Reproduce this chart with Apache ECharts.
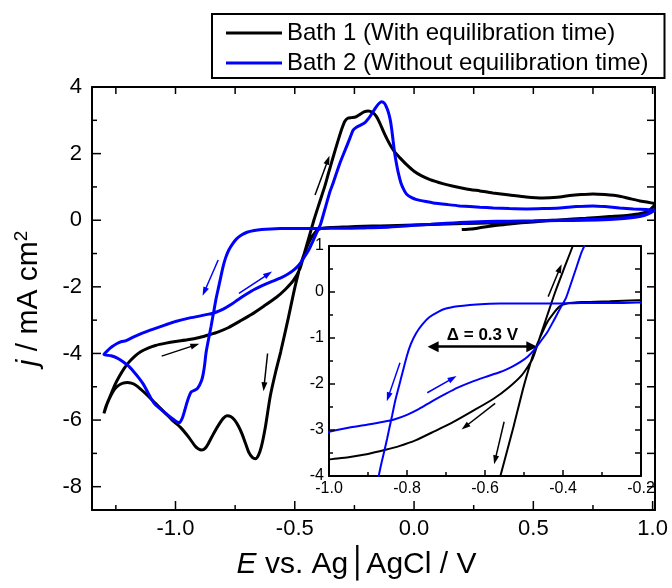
<!DOCTYPE html>
<html>
<head>
<meta charset="utf-8">
<script src="https://cdn.jsdelivr.net/npm/echarts@6/dist/echarts.min.js"></script>
<style>
  html, body { margin: 0; padding: 0; background: #fff; }
  #chart { width: 672px; height: 588px; }
</style>
</head>
<body>
<div id="chart"></div>
<script>
// Cyclic voltammograms: potential E (V vs Ag|AgCl) and current density j (mA cm^-2), in scan order.
const bath1Name = 'Bath 1 (With equilibration time)';
const bath2Name = 'Bath 2 (Without equilibration time)';

const bath1Potential = [
  0.20, 0.24, 0.28, 0.34, 0.40, 0.50, 0.61, 0.72, 0.82, 0.90, 0.95, 0.99, 1.01,
  0.99, 0.96, 0.92, 0.85, 0.75, 0.61, 0.50, 0.40, 0.27, 0.14, 0.00, -0.14, -0.21, -0.28, -0.35, -0.39,
  -0.41, -0.44, -0.474, -0.50, -0.526, -0.559, -0.58, -0.603, -0.623, -0.64, -0.652, -0.665, -0.678,
  -0.692, -0.707, -0.722, -0.737, -0.752, -0.767, -0.784, -0.80, -0.815, -0.84, -0.862, -0.876, -0.89,
  -0.905, -0.918, -0.944, -0.979, -1.014, -1.042, -1.084, -1.126, -1.167, -1.185, -1.202, -1.22, -1.237,
  -1.255, -1.27, -1.286, -1.30,
  -1.292, -1.283, -1.272, -1.255, -1.237, -1.215, -1.195, -1.17, -1.146, -1.115, -1.084, -1.04, -1.00,
  -0.95, -0.90, -0.855, -0.82, -0.777, -0.73, -0.682, -0.63, -0.578, -0.54, -0.505, -0.478, -0.46, -0.44,
  -0.42, -0.40, -0.375, -0.36, -0.345, -0.33, -0.316, -0.302, -0.29, -0.278, -0.262, -0.245, -0.228, -0.21,
  -0.192, -0.175, -0.158, -0.143, -0.128, -0.112, -0.095, -0.078, -0.06, -0.03, 0.00, 0.03, 0.067, 0.12,
  0.165, 0.22, 0.276, 0.33, 0.40, 0.47, 0.54, 0.60, 0.653, 0.70, 0.75, 0.80, 0.862, 0.91, 0.946, 0.98, 1.01
];
const bath1Current = [
  -0.28, -0.26, -0.22, -0.16, -0.11, -0.05, 0.01, 0.06, 0.11, 0.15, 0.20, 0.30, 0.46,
  0.32, 0.20, 0.14, 0.10, 0.06, 0.01, -0.03, -0.06, -0.09, -0.11, -0.14, -0.17, -0.18, -0.20, -0.22, -0.25,
  -0.32, -0.65, -1.30, -2.03, -2.90, -3.95, -4.55, -5.29, -6.20, -6.80, -7.05, -7.16, -7.12,
  -6.98, -6.69, -6.40, -6.17, -6.00, -5.90, -5.87, -5.95, -6.10, -6.40, -6.70, -6.85, -6.90,
  -6.86, -6.78, -6.52, -6.22, -6.00, -5.80, -5.50, -5.20, -4.95, -4.89, -4.87, -4.89, -4.95,
  -5.07, -5.25, -5.50, -5.80,
  -5.60, -5.44, -5.25, -4.96, -4.71, -4.45, -4.26, -4.08, -3.95, -3.84, -3.76, -3.69, -3.64,
  -3.59, -3.52, -3.43, -3.35, -3.22, -3.03, -2.83, -2.58, -2.32, -2.08, -1.80, -1.45, -1.00, -0.50,
  0.00, 0.45, 1.00, 1.38, 1.75, 2.12, 2.45, 2.76, 2.97, 3.06, 3.08, 3.10, 3.17, 3.25,
  3.28, 3.24, 3.12, 2.91, 2.66, 2.42, 2.20, 2.02, 1.88, 1.66, 1.47, 1.34, 1.22, 1.10,
  1.02, 0.94, 0.88, 0.82, 0.76, 0.70, 0.67, 0.69, 0.74, 0.77, 0.79, 0.77, 0.72, 0.64, 0.58, 0.54, 0.50
];

const bath2Potential = [
  0.20, 0.26, 0.33, 0.40, 0.50, 0.61, 0.72, 0.82, 0.90, 0.95, 0.99, 1.01,
  0.98, 0.946, 0.88, 0.82, 0.72, 0.611, 0.50, 0.402, 0.30, 0.192, 0.137, 0.07, 0.00, -0.07, -0.142,
  -0.21, -0.282, -0.353, -0.42, -0.50, -0.561, -0.60, -0.639, -0.67, -0.70, -0.72, -0.743, -0.76,
  -0.777, -0.79, -0.80, -0.81, -0.82, -0.83, -0.838, -0.845, -0.851, -0.858, -0.865, -0.872, -0.878,
  -0.884, -0.89, -0.90, -0.911, -0.925, -0.935, -0.945, -0.953, -0.963, -0.972, -0.984, -0.995, -1.007,
  -1.042, -1.084, -1.10, -1.118, -1.135, -1.153, -1.175, -1.195, -1.22, -1.244, -1.27, -1.30,
  -1.28, -1.265, -1.245, -1.225, -1.21, -1.175, -1.139, -1.09, -1.042, -1.00, -0.944, -0.90, -0.86,
  -0.833, -0.80, -0.769, -0.735, -0.70, -0.67, -0.639, -0.60, -0.561, -0.53, -0.509, -0.49, -0.475,
  -0.458, -0.44, -0.425, -0.41, -0.392, -0.375, -0.365, -0.353, -0.34, -0.311, -0.283, -0.268, -0.255,
  -0.24, -0.226, -0.206, -0.185, -0.17, -0.157, -0.145, -0.136, -0.125, -0.117, -0.108, -0.10, -0.094,
  -0.088, -0.082, -0.075, -0.066, -0.055, -0.043, -0.031, -0.01, 0.011, 0.05, 0.081, 0.14, 0.192,
  0.276, 0.332, 0.40, 0.471, 0.54, 0.611, 0.68, 0.75, 0.80, 0.862, 0.92, 0.974, 1.01
];
const bath2Current = [
  -0.10, -0.07, -0.04, -0.03, -0.02, 0.00, 0.02, 0.04, 0.08, 0.13, 0.22, 0.30,
  0.18, 0.11, 0.05, 0.02, 0.00, -0.01, -0.02, -0.03, -0.04, -0.07, -0.09, -0.12, -0.15, -0.19, -0.22,
  -0.23, -0.24, -0.24, -0.25, -0.25, -0.25, -0.26, -0.28, -0.31, -0.36, -0.43, -0.55, -0.70,
  -0.90, -1.13, -1.38, -1.70, -2.03, -2.36, -2.68, -2.95, -3.19, -3.45, -3.70, -3.98, -4.35,
  -4.62, -4.80, -4.96, -5.07, -5.12, -5.16, -5.32, -5.50, -5.75, -5.95, -6.08, -6.05, -5.99,
  -5.79, -5.54, -5.38, -5.14, -4.92, -4.74, -4.55, -4.39, -4.25, -4.14, -4.07, -4.03,
  -3.88, -3.79, -3.70, -3.64, -3.62, -3.50, -3.39, -3.26, -3.14, -3.04, -2.94, -2.88, -2.82,
  -2.77, -2.67, -2.54, -2.37, -2.21, -2.08, -1.97, -1.85, -1.74, -1.62, -1.52, -1.40, -1.27,
  -1.08, -0.87, -0.64, -0.40, -0.12, 0.30, 0.55, 0.85, 1.10, 1.71, 2.21, 2.48, 2.71,
  2.80, 2.85, 2.93, 3.11, 3.28, 3.42, 3.52, 3.56, 3.52, 3.42, 3.25, 3.02, 2.75,
  2.40, 2.05, 1.75, 1.42, 1.12, 0.92, 0.78, 0.68, 0.62, 0.56, 0.52, 0.47, 0.43,
  0.39, 0.37, 0.35, 0.34, 0.35, 0.37, 0.41, 0.43, 0.41, 0.37, 0.34, 0.32, 0.30
];

// Axis ticks
const mainXMajor = [-1.0, -0.5, 0.0, 0.5, 1.0];
const mainXMinor = [-1.25, -0.75, -0.25, 0.25, 0.75];
const mainYMajor = [4, 2, 0, -2, -4, -6, -8];
const mainYMinor = [3, 1, -1, -3, -5, -7];
const insetXMajor = [-1.0, -0.8, -0.6, -0.4, -0.2];
const insetXMinor = [-0.9, -0.7, -0.5, -0.3];
const insetYMajor = [1, 0, -1, -2, -3, -4];
const insetYMinor = [0.5, -0.5, -1.5, -2.5, -3.5];

// Scan-direction arrows: [E start, j start, E end, j end]
const mainArrowsBath1 = [[-0.415, 0.757, -0.361, 1.81], [-0.614, -4.0, -0.629, -5.0], [-1.058, -4.08, -0.918, -3.75]];
const mainArrowsBath2 = [[-0.821, -1.195, -0.879, -2.147], [-0.734, -2.195, -0.611, -1.616]];
const insetArrowsBath1 = [[-0.438, -0.10, -0.408, 0.515], [-0.551, -2.82, -0.574, -3.65], [-0.574, -2.42, -0.651, -2.93]];
const insetArrowsBath2 = [[-0.818, -1.54, -0.848, -2.28], [-0.748, -2.19, -0.683, -1.876]];
const peakShift = [-0.733, -0.480, -1.19];   // E from, E to, j level
const peakShiftText = 'Δ = 0.3 V';

const FONT = '"Liberation Sans", Arial, sans-serif';
const zip = (a, b) => a.map((v, i) => [v, b[i]]);
const bath1 = zip(bath1Potential, bath1Current);
const bath2 = zip(bath2Potential, bath2Current);

const arrowLines = (list) => list.map(a => [{ coord: [a[0], a[1]] }, { coord: [a[2], a[3]] }]);
const arrowMark = (list, color) => ({
  silent: true, animation: false,
  symbol: ['none', 'triangle'], symbolSize: [6, 9],
  lineStyle: { color: color, width: 1.5, type: 'solid' },
  label: { show: false },
  emphasis: { disabled: true },
  data: arrowLines(list)
});

const fmt1 = v => v.toFixed(1);
const fmt0 = v => String(Math.round(v));

const MAIN_X = [-1.35, 1.01], MAIN_Y = [-8.7, 4];
const INSET_X = [-1.0, -0.2], INSET_Y = [-4, 1];

// Tick marks as [side, value, length in px]
const BOTTOM = 0, TOP = 1, LEFT = 2, RIGHT = 3;
const marks = (side, values, len) => values.map(v => [side, v, len]);
const mainTicks = [].concat(
  marks(BOTTOM, mainXMajor, 9), marks(BOTTOM, mainXMinor, 5),
  marks(TOP, mainXMajor.concat(mainXMinor), 7),
  marks(LEFT, mainYMajor, 9), marks(LEFT, mainYMinor, 5),
  marks(RIGHT, mainYMajor.concat(mainYMinor), 8)
);
const insetTicks = [].concat(
  marks(BOTTOM, insetXMajor, 6), marks(BOTTOM, insetXMinor, 4),
  marks(LEFT, insetYMajor, 6), marks(LEFT, insetYMinor, 4),
  marks(RIGHT, insetYMajor.concat(insetYMinor), 6)
);

// One side of a panel frame: the edge line, optionally with labels/name.
function frame(gridIndex, range, position, extra) {
  return Object.assign({
    type: 'value', gridIndex: gridIndex, min: range[0], max: range[1], position: position,
    splitLine: { show: false },
    axisTick: { show: false },
    axisLabel: { show: false },
    axisLine: { show: true, onZero: false, lineStyle: { color: '#000', width: 2 } }
  }, extra || {});
}

const chart = echarts.init(document.getElementById('chart'), null, { renderer: 'canvas' });
chart.setOption({
  animation: false,
  backgroundColor: '#fff',
  textStyle: { fontFamily: FONT },
  legend: {
    data: [bath1Name, bath2Name],
    orient: 'vertical',
    left: 212, top: 14,
    padding: [7, 16, 3, 14],
    itemWidth: 56, itemHeight: 3, itemGap: 6,
    icon: 'rect',
    borderColor: '#000', borderWidth: 2,
    selectedMode: false,
    textStyle: { fontFamily: FONT, fontSize: 24, lineHeight: 24, color: '#000' }
  },
  grid: [
    { left: 92, top: 87, right: 17, bottom: 78, show: false },
    { left: 329, top: 246, right: 31, bottom: 112, show: true, borderWidth: 0, backgroundColor: '#fff', z: 3 }
  ],
  xAxis: [
    frame(0, MAIN_X, 'bottom', { // 0
      axisLabel: { show: true, customValues: mainXMajor, formatter: fmt1, fontSize: 22, color: '#000', margin: 8, fontFamily: FONT },
      name: '{i|E} vs. Ag{b|│}AgCl / V',
      nameLocation: 'middle', nameGap: 40,
      nameTextStyle: {
        fontSize: 30, color: '#000', fontFamily: FONT, padding: [0, 34, 0, 0],
        rich: {
          i: { fontStyle: 'italic', fontSize: 30, fontFamily: FONT, color: '#000' },
          b: { fontSize: 30, fontFamily: '"DejaVu Sans", sans-serif', color: '#000' }
        }
      }
    }),
    frame(0, MAIN_X, 'top'), // 1
    frame(1, INSET_X, 'bottom', { // 2
      z: 4,
      axisLabel: { show: true, customValues: insetXMajor, formatter: fmt1, fontSize: 16, color: '#000', margin: 5, fontFamily: FONT }
    }),
    frame(1, INSET_X, 'top', { z: 4 }) // 3
  ],
  yAxis: [
    frame(0, MAIN_Y, 'left', { // 0
      axisLabel: { show: true, customValues: mainYMajor, formatter: fmt0, fontSize: 22, color: '#000', margin: 10, fontFamily: FONT },
      name: '{i|j} / mA cm{s|2}',
      nameLocation: 'middle', nameGap: 46, nameRotate: 90,
      nameTextStyle: {
        fontSize: 30, color: '#000', fontFamily: FONT, lineHeight: 34,
        rich: {
          i: { fontStyle: 'italic', fontSize: 30, fontFamily: FONT, color: '#000' },
          s: { fontSize: 19, fontFamily: FONT, color: '#000', verticalAlign: 'top' }
        }
      }
    }),
    frame(0, MAIN_Y, 'right'), // 1
    frame(1, INSET_Y, 'left', { // 2
      z: 4,
      axisLabel: { show: true, customValues: insetYMajor, formatter: fmt0, fontSize: 16, color: '#000', margin: 5, fontFamily: FONT }
    }),
    frame(1, INSET_Y, 'right', { z: 4 }) // 3
  ],
  series: [
    {
      name: bath1Name, type: 'line', xAxisIndex: 0, yAxisIndex: 0, data: bath1,
      showSymbol: false, smooth: 0.2, z: 2, color: '#000',
      lineStyle: { color: '#000', width: 3 },
      markLine: arrowMark(mainArrowsBath1, '#000')
    },
    {
      name: bath2Name, type: 'line', xAxisIndex: 0, yAxisIndex: 0, data: bath2,
      showSymbol: false, smooth: 0.2, z: 2, color: '#0000ff',
      lineStyle: { color: '#0000ff', width: 3 },
      markLine: arrowMark(mainArrowsBath2, '#0000ff')
    },
    {
      name: bath1Name, type: 'line', xAxisIndex: 2, yAxisIndex: 2, data: bath1,
      showSymbol: false, smooth: 0.2, z: 5, color: '#000',
      lineStyle: { color: '#000', width: 2 },
      markLine: arrowMark(insetArrowsBath1, '#000')
    },
    {
      name: bath2Name, type: 'line', xAxisIndex: 2, yAxisIndex: 2, data: bath2,
      showSymbol: false, smooth: 0.2, z: 5, color: '#0000ff',
      lineStyle: { color: '#0000ff', width: 2 },
      markLine: arrowMark(insetArrowsBath2, '#0000ff')
    },
    {
      type: 'line', xAxisIndex: 2, yAxisIndex: 2, data: [], z: 6,
      markLine: {
        silent: true, animation: false,
        symbol: ['triangle', 'triangle'], symbolSize: [11, 11],
        lineStyle: { color: '#000', width: 2.5, type: 'solid' },
        label: {
          show: true, position: 'insideMiddleTop', distance: 3,
          formatter: peakShiftText, fontSize: 17, fontWeight: 'bold', color: '#000', fontFamily: FONT
        },
        emphasis: { disabled: true },
        data: [[{ coord: [peakShift[0], peakShift[2]] }, { coord: [peakShift[1], peakShift[2]] }]]
      }
    }
  ]
});

// Inward tick marks along each frame edge, placed through the axes' own scales.
function tickElements(finder, xr, yr, list) {
  return list.map(t => {
    const side = t[0], v = t[1], len = t[2];
    let p, d;
    if (side === BOTTOM) { p = chart.convertToPixel(finder, [v, yr[0]]); d = [0, -len]; }
    else if (side === TOP) { p = chart.convertToPixel(finder, [v, yr[1]]); d = [0, len]; }
    else if (side === LEFT) { p = chart.convertToPixel(finder, [xr[0], v]); d = [len, 0]; }
    else { p = chart.convertToPixel(finder, [xr[1], v]); d = [-len, 0]; }
    return {
      type: 'line', silent: true, z: 100,
      shape: { x1: p[0], y1: p[1], x2: p[0] + d[0], y2: p[1] + d[1] },
      style: { stroke: '#000', lineWidth: 1.5 }
    };
  });
}
try {
  const tickGraphics = [].concat(
    tickElements({ xAxisIndex: 0, yAxisIndex: 0 }, MAIN_X, MAIN_Y, mainTicks),
    tickElements({ xAxisIndex: 2, yAxisIndex: 2 }, INSET_X, INSET_Y, insetTicks)
  ).filter(el => isFinite(el.shape.x1) && isFinite(el.shape.y1));
  chart.setOption({ graphic: tickGraphics });
} catch (e) {
  // leave the chart without tick marks if the scales are unavailable
}
</script>
</body>
</html>
